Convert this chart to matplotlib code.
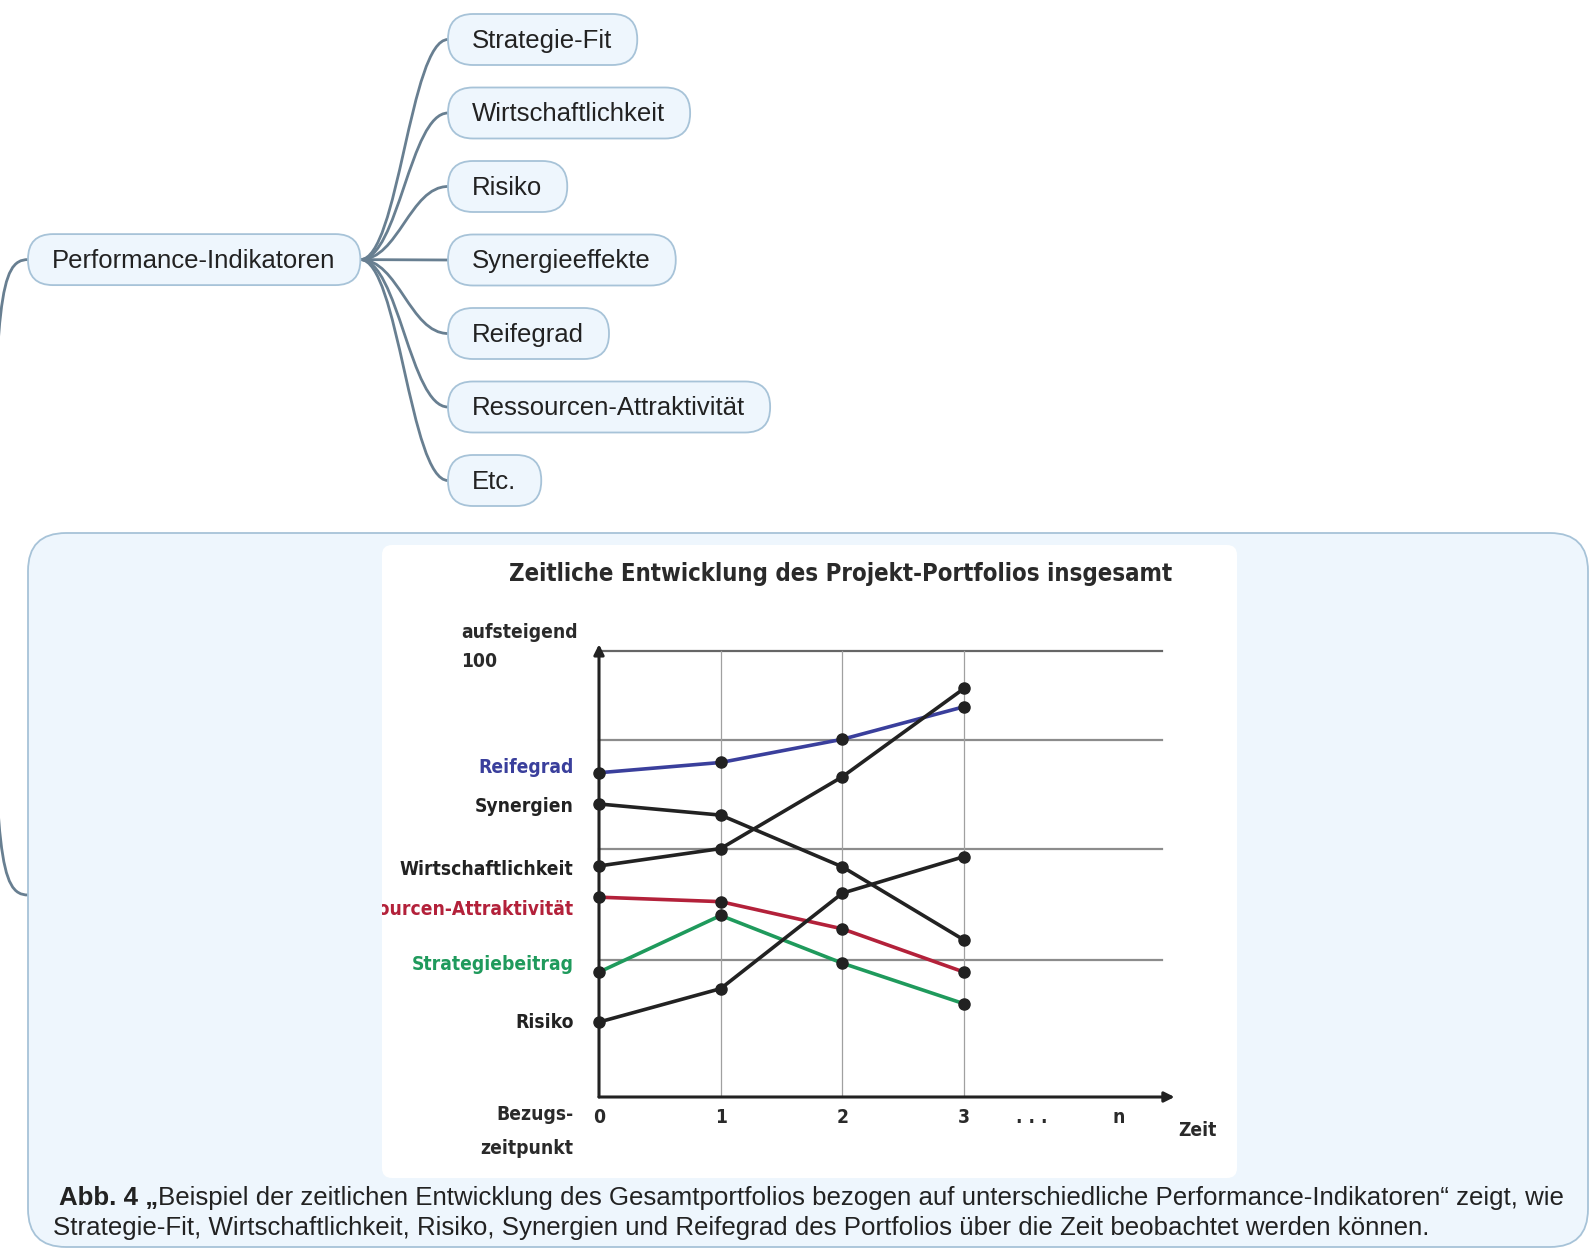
import matplotlib
matplotlib.use('Agg')
import matplotlib.pyplot as plt
from matplotlib import font_manager as fm
from matplotlib.patches import FancyBboxPatch, PathPatch
from matplotlib.path import Path
from matplotlib.transforms import Bbox, TransformedBbox

# mindmap
root_label = 'Performance-Indikatoren'
child_labels = ['Strategie-Fit', 'Wirtschaftlichkeit', 'Risiko', 'Synergieeffekte',
                'Reifegrad', 'Ressourcen-Attraktivität', 'Etc.']

# chart data (0 = Achse, 100 = oben)
zeitpunkte = [0, 1, 2, 3]
reifegrad = [72.7, 75.0, 80.2, 87.5]
synergien = [65.7, 63.2, 51.6, 35.2]
wirtschaftlichkeit = [51.8, 55.7, 71.8, 91.6]
ressourcen = [44.8, 43.8, 37.7, 28.0]
strategiebeitrag = [28.0, 40.7, 30.0, 20.9]
risiko = [16.8, 24.3, 45.7, 53.9]

serien = [('Reifegrad', reifegrad, '#3a3f9c', 73.9),
          ('Synergien', synergien, '#222222', 65.2),
          ('Wirtschaftlichkeit', wirtschaftlichkeit, '#222222', 51.1),
          ('Ressourcen-Attraktivität', ressourcen, '#b3213a', 42.0),
          ('Strategiebeitrag', strategiebeitrag, '#1f9a5c', 29.8),
          ('Risiko', risiko, '#222222', 16.8)]

tick_labels = ['0', '1', '2', '3', '. . .', 'n']
tick_pos = [0, 1, 2, 3, 3.56, 4.27]
grid_levels = [100, 80, 55.7, 30.7]

titel = 'Zeitliche Entwicklung des Projekt-Portfolios insgesamt'
caption_bold = 'Abb. 4 „'
caption_1 = 'Beispiel der zeitlichen Entwicklung des Gesamtportfolios bezogen auf unterschiedliche Performance-Indikatoren“ zeigt, wie'
caption_2 = 'Strategie-Fit, Wirtschaftlichkeit, Risiko, Synergien und Reifegrad des Portfolios über die Zeit beobachtet werden können.'

SANS = ['Liberation Sans', 'DejaVu Sans']
box_fill = '#eef6fd'
box_edge = '#a7c3d8'
link_col = '#687f91'


# schmale fette Schrift suchen, sonst Liberation Sans Bold
def schmale_schrift():
    for f in fm.fontManager.ttflist:
        if f.name == 'Liberation Sans Narrow' and f.weight in ('bold', 700):
            return fm.FontProperties(fname=f.fname)
    for f in fm.fontManager.ttflist:
        if 'Condensed' in f.fname and 'Bold' in f.fname and 'Oblique' not in f.fname \
                and 'DejaVuSans' in f.fname:
            return fm.FontProperties(fname=f.fname)
    return fm.FontProperties(family='Liberation Sans', weight='bold')


NARROW = schmale_schrift()

fig = plt.figure(figsize=(15.9, 12.49), dpi=100)
bg = fig.add_axes([0, 0, 1, 1])
bg.set_xlim(0, 1590)
bg.set_ylim(1249, 0)
bg.axis('off')
renderer = fig.canvas.get_renderer()


def passende_groesse(text, breite):
    fp = NARROW.copy()
    fp.set_size(20)
    t = bg.text(0, 0, text, fontproperties=fp)
    w = t.get_window_extent(renderer).width
    t.remove()
    return 20 * breite / w


def schmal(size):
    fp = NARROW.copy()
    fp.set_size(size)
    return fp


def bogen(punkte):
    p = Path(punkte, [Path.MOVETO, Path.CURVE4, Path.CURVE4, Path.CURVE4])
    bg.add_patch(PathPatch(p, fc='none', ec=link_col, lw=2, zorder=1))


def knoten(x, yc, label):
    t = bg.text(x + 24, yc + 1, label, fontsize=18.5, family=SANS, color='#222222',
                ha='left', va='center', zorder=3)
    w = t.get_window_extent(renderer).width
    bg.add_patch(FancyBboxPatch((x, yc - 25.5), w + 49, 51,
                                boxstyle='round,pad=0,rounding_size=25',
                                fc=box_fill, ec=box_edge, lw=1.3, zorder=2))
    return x + w + 49


# root node and its parent links (parent outside the picture)
root_y = 259.6
root_r = knoten(28, root_y, root_label)
bogen([(28, root_y), (0, root_y), (-5, 300), (-8, 577)])
bogen([(28, 895), (0, 895), (-5, 854), (-8, 577)])

for i, lab in enumerate(child_labels):
    cy = 39.5 + i * 73.5
    knoten(448, cy, lab)
    bogen([(root_r, root_y), (root_r + 38, root_y), (410, cy), (448, cy)])

# big node with the image
bg.add_patch(FancyBboxPatch((28, 533), 1560, 714, boxstyle='round,pad=0,rounding_size=38',
                            fc=box_fill, ec=box_edge, lw=1.3, zorder=2))
panel = FancyBboxPatch((382, 545), 855, 633, boxstyle='round,pad=0,rounding_size=10',
                       fc='white', ec='none', zorder=3)
bg.add_patch(panel)
panel_box = TransformedBbox(Bbox([[382, 545], [1237, 1178]]), bg.transData)

titel_size = passende_groesse(titel, 653) * 1.02
label_size = passende_groesse('Wirtschaftlichkeit', 167) * 1.04

bg.text(841, 574, titel, fontproperties=schmal(titel_size), color='#2a2a2a',
        ha='center', va='center', zorder=4)

# caption
cap = 18.6
tb = bg.text(59, 1198, caption_bold, fontsize=cap, family=SANS, weight='bold',
             color='#222222', ha='left', va='center', zorder=4)
wb = tb.get_window_extent(renderer).width
bg.text(59 + wb, 1198, caption_1, fontsize=cap, family=SANS, color='#222222',
        ha='left', va='center', zorder=4)
bg.text(53, 1228, caption_2, fontsize=cap, family=SANS, color='#222222',
        ha='left', va='center', zorder=4)

# chart
ax = fig.add_axes([599 / 1590, 152 / 1249, 578 / 1590, 459.4 / 1249])
ax.set_xlim(0, 4.75)
ax.set_ylim(0, 103)
ax.axis('off')

for i, g in enumerate(grid_levels):
    ax.plot([0, 4.63], [g, g], color='#666666' if i == 0 else '#8c8c8c',
            lw=1.6, zorder=1, clip_on=False)
for x in zeitpunkte[1:]:
    ax.plot([x, x], [0, 100], color='#a0a0a0', lw=0.9, zorder=1)

pfeil = dict(arrowstyle='-|>', lw=2.2, color='#222222', mutation_scale=15,
             shrinkA=0, shrinkB=0)
ax.annotate('', xy=(0, 101.5), xytext=(0, 0), arrowprops=pfeil,
            annotation_clip=False, zorder=5)
ax.annotate('', xy=(4.73, 0), xytext=(0, 0), arrowprops=pfeil,
            annotation_clip=False, zorder=5)

for name, werte, farbe, label_y in serien:
    ax.plot(zeitpunkte, werte, color=farbe, lw=2.6, zorder=3, solid_capstyle='round',
            clip_on=False)
    ax.plot(zeitpunkte, werte, 'o', color='#222222', ms=8, zorder=4, clip_on=False)
    t = ax.text(-0.21, label_y, name, fontproperties=schmal(label_size),
                color=farbe, ha='right', va='center', clip_on=True)
    t.set_clip_path(None)
    t.set_clip_box(panel_box)

nfp = schmal(label_size)
ax.text(-1.13, 104.1, 'aufsteigend', ha='left', va='center', fontproperties=nfp, color='#2a2a2a')
ax.text(-1.13, 97.7, '100', ha='left', va='center', fontproperties=nfp, color='#2a2a2a')
for p, lab in zip(tick_pos, tick_labels):
    ax.text(p, -4.5, lab, ha='center', va='center', fontproperties=nfp, color='#2a2a2a')
ax.text(4.92, -7.6, 'Zeit', ha='center', va='center', fontproperties=nfp, color='#2a2a2a')
ax.text(-0.21, -3.9, 'Bezugs-', ha='right', va='center', fontproperties=nfp, color='#2a2a2a')
ax.text(-0.21, -11.6, 'zeitpunkt', ha='right', va='center', fontproperties=nfp, color='#2a2a2a')

fig.savefig('out.png', dpi=100)
